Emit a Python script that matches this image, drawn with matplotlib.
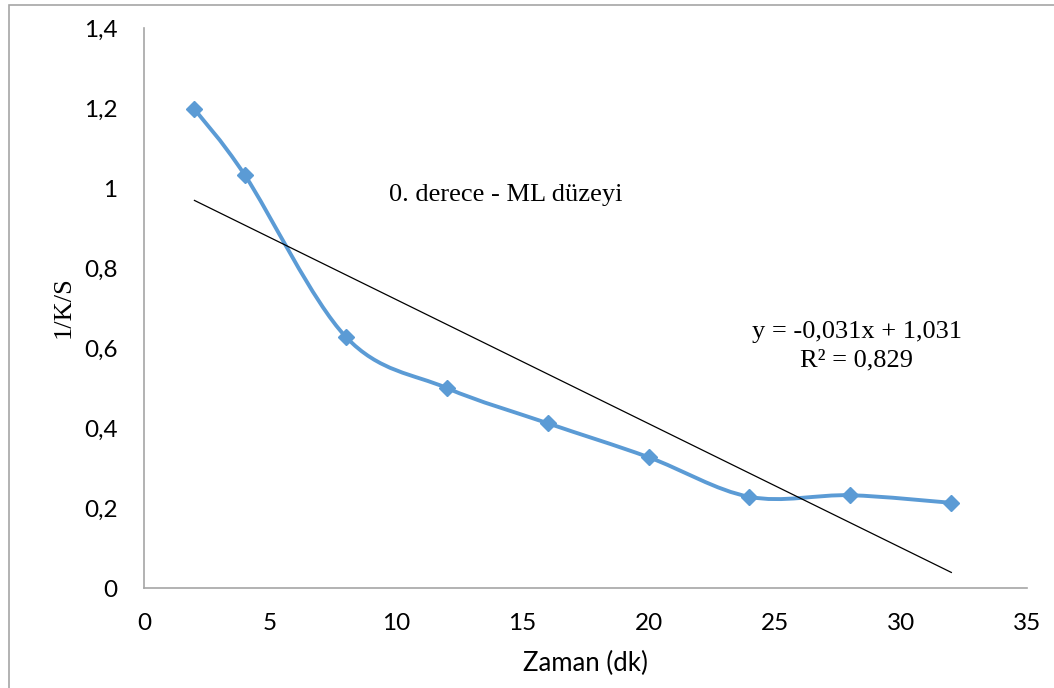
import matplotlib
matplotlib.use("Agg")
import matplotlib.pyplot as plt
from matplotlib.path import Path
from matplotlib.patches import PathPatch, Rectangle
import numpy as np

# data
zaman = [2, 4, 8, 12, 16, 20, 24, 28, 32]
ks = [1.197, 1.032, 0.628, 0.500, 0.412, 0.327, 0.228, 0.232, 0.213]
slope, intercept = -0.031, 1.031
trend_x = [2, 32]
xticks = [0, 5, 10, 15, 20, 25, 30, 35]
yticks = [0, 0.2, 0.4, 0.6, 0.8, 1.0, 1.2, 1.4]
ytick_labels = ["0", "0,2", "0,4", "0,6", "0,8", "1", "1,2", "1,4"]

blue = "#5b9bd5"
grey = "#a6a6a6"

fig = plt.figure(figsize=(10.54, 6.88), dpi=100)
ax = fig.add_axes([0.1366, 0.1453, 0.8378, 0.814])

# outer chart border (right/bottom cropped in the reference)
fig.patches.append(Rectangle((9 / 1054, -0.05), 1.2, 1 - 5 / 688 + 0.05,
                             transform=fig.transFigure, fill=False,
                             edgecolor=grey, linewidth=1.2))


# smoothed line like Excel: Catmull-Rom style bezier through the points
def smooth_path(xs, ys):
    pts = np.column_stack([xs, ys])
    verts = [pts[0]]
    codes = [Path.MOVETO]
    n = len(pts)
    for i in range(n - 1):
        p0 = pts[i - 1] if i > 0 else pts[i]
        p1 = pts[i]
        p2 = pts[i + 1]
        p3 = pts[i + 2] if i + 2 < n else pts[i + 1]
        c1 = p1 + (p2 - p0) / 6
        c2 = p2 - (p3 - p1) / 6
        verts += [c1, c2, p2]
        codes += [Path.CURVE4] * 3
    return Path(verts, codes)


ax.add_patch(PathPatch(smooth_path(zaman, ks), facecolor="none",
                       edgecolor=blue, linewidth=2.8, transform=ax.transData,
                       zorder=2))
ax.plot(zaman, ks, linestyle="none", marker="D", markersize=8,
        color=blue, zorder=3)

trend_y = [slope * x + intercept for x in trend_x]
ax.plot(trend_x, trend_y, color="black", linewidth=0.9, zorder=4)

ax.set_xlim(0, 35)
ax.set_ylim(0, 1.4)
ax.set_xticks(xticks)
ax.set_yticks(yticks)
ax.set_yticklabels(ytick_labels)
ax.tick_params(length=0, labelsize=17.5)
for lab in ax.get_xticklabels() + ax.get_yticklabels():
    lab.set_fontfamily("Lato")
ax.tick_params(axis="x", pad=18)
ax.tick_params(axis="y", pad=19)

for s in ["top", "right"]:
    ax.spines[s].set_visible(False)
for s in ["left", "bottom"]:
    ax.spines[s].set_color(grey)
    ax.spines[s].set_linewidth(1.2)

ax.set_xlabel("Zaman (dk)", fontsize=18.5, fontfamily="Lato")
ax.xaxis.set_label_coords(0.5, -0.113)
ax.set_ylabel("1/K/S", fontsize=19, fontfamily="Liberation Serif")
ax.yaxis.set_label_coords(-0.078, 0.502)

ax.text(9.7, 0.983, "0. derece - ML düzeyi", fontsize=19,
        fontfamily="Liberation Serif", ha="left", va="center")
ax.text(28.26, 0.605, "y = -0,031x + 1,031\nR² = 0,829", fontsize=19,
        fontfamily="Liberation Serif", ha="center", va="center",
        linespacing=1.4)

fig.savefig("out.png", dpi=100)
